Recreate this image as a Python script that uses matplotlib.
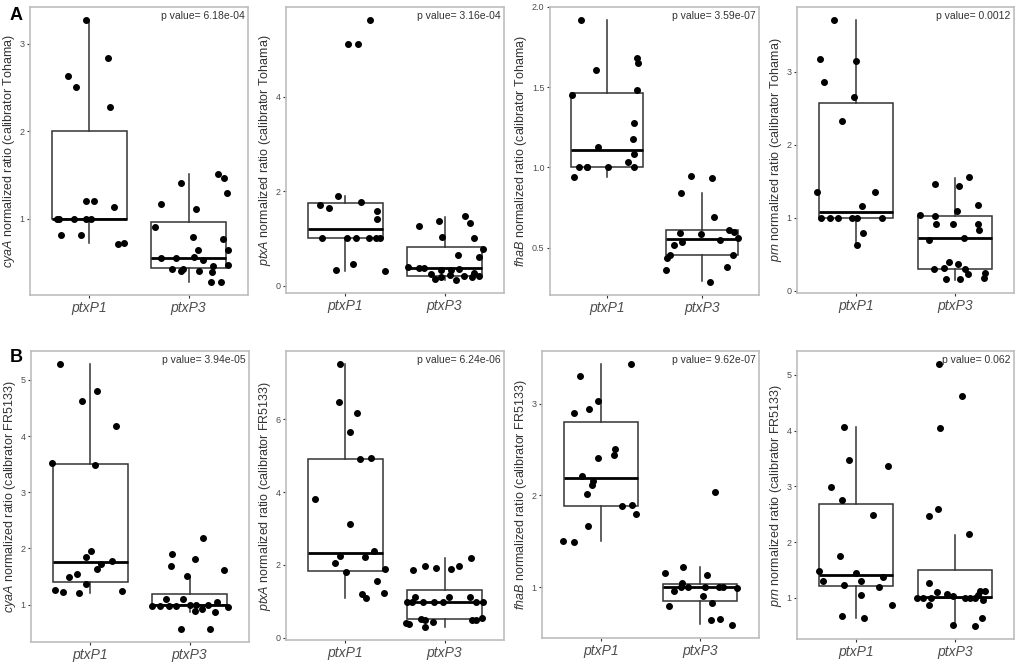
import matplotlib
matplotlib.use("Agg")
import matplotlib.pyplot as plt

plt.rcParams['font.family'] = ['Liberation Sans', 'DejaVu Sans']
plt.rcParams['mathtext.fontset'] = 'custom'
plt.rcParams['mathtext.it'] = 'Liberation Sans:italic'
plt.rcParams['mathtext.rm'] = 'Liberation Sans'

groups = ["ptxP1", "ptxP3"]
genes = ["cyaA", "ptxA", "fhaB", "prn", "cyaA", "ptxA", "fhaB", "prn"]
calibrators = ["Tohama"] * 4 + ["FR5133"] * 4
pvalues = ["6.18e-04", "3.16e-04", "3.59e-07", "0.0012",
           "3.94e-05", "6.24e-06", "9.62e-07", "0.062"]

# ---- row A (calibrator Tohama) ----
a1_p1_x = [0.97, 0.78, 0.86, 1.19, 1.21, 0.97, 1.05, 1.25, 0.67, 0.69, 0.84, 0.97, 1.02, 0.71, 0.91, 1.29, 1.35]
a1_p1_y = [3.27, 2.63, 2.51, 2.84, 2.28, 1.20, 1.20, 1.14, 1.0, 1.0, 1.0, 1.0, 1.0, 0.82, 0.81, 0.71, 0.73]
a1_p3_x = [1.66, 1.72, 1.92, 2.08, 2.04, 2.10, 2.30, 2.36, 2.39, 2.35, 2.40, 2.40, 1.72, 1.87, 2.05, 2.15, 1.83, 1.92, 1.94, 2.11, 2.25, 2.24, 2.23, 2.33]
a1_p3_y = [0.905, 1.17, 1.41, 1.11, 0.79, 0.65, 1.51, 1.47, 1.30, 0.77, 0.65, 0.47, 0.55, 0.55, 0.57, 0.53, 0.43, 0.40, 0.43, 0.40, 0.46, 0.39, 0.28, 0.28]
a1_box = [(0.72, 1.0, 1.0, 2.0, 3.27), (0.28, 0.436, 0.555, 0.96, 1.51)]

a2_p1_x = [1.25, 1.03, 1.13, 0.92, 0.74, 0.83, 1.16, 1.32, 1.32, 0.76, 1.02, 1.11, 1.24, 1.31, 1.35, 0.90, 1.08, 1.40]
a2_p1_y = [5.63, 5.13, 5.13, 1.91, 1.70, 1.64, 1.77, 1.59, 1.41, 1.01, 1.01, 1.01, 1.01, 1.01, 1.01, 0.34, 0.46, 0.31]
a2_p3_x = [1.74, 1.94, 1.97, 2.21, 2.26, 2.30, 2.39, 2.35, 2.14, 1.63, 1.74, 1.79, 1.96, 2.07, 2.15, 1.86, 1.96, 1.90, 2.06, 2.12, 2.20, 2.28, 2.30, 2.35]
a2_p3_y = [1.27, 1.36, 1.03, 1.47, 1.32, 1.00, 0.77, 0.60, 0.64, 0.40, 0.37, 0.37, 0.34, 0.34, 0.36, 0.24, 0.18, 0.14, 0.22, 0.12, 0.20, 0.18, 0.26, 0.21]
a2_box = [(0.31, 1.01, 1.21, 1.75, 1.89), (0.12, 0.21, 0.38, 0.82, 1.45)]

a3_p1_x = [0.73, 0.88, 0.63, 1.32, 1.33, 1.32, 1.28, 1.27, 1.28, 0.91, 1.22, 0.71, 0.79, 0.79, 1.01, 1.28, 0.655]
a3_p1_y = [1.917, 1.61, 1.45, 1.68, 1.65, 1.48, 1.28, 1.18, 1.085, 1.13, 1.035, 1.0, 1.0, 1.0, 1.0, 1.0, 0.94]
a3_p3_x = [1.88, 2.11, 1.78, 2.13, 1.77, 1.99, 2.28, 2.34, 2.38, 2.19, 1.79, 1.70, 1.66, 1.63, 2.33, 2.26, 1.62, 2.08]
a3_p3_y = [0.944, 0.935, 0.84, 0.694, 0.59, 0.585, 0.61, 0.60, 0.558, 0.55, 0.537, 0.516, 0.452, 0.437, 0.452, 0.383, 0.36, 0.287]
a3_box = [(0.94, 1.0, 1.108, 1.467, 1.917), (0.29, 0.452, 0.556, 0.608, 0.84)]

a4_p1_x = [0.78, 0.63, 0.67, 1.0, 0.98, 0.86, 0.60, 1.19, 1.06, 0.64, 0.73, 0.82, 0.96, 1.01, 1.26, 1.07, 1.01]
a4_p1_y = [3.71, 3.17, 2.86, 3.15, 2.65, 2.33, 1.36, 1.36, 1.16, 1.0, 1.0, 1.0, 1.0, 1.0, 1.0, 0.80, 0.63]
a4_p3_x = [1.65, 1.80, 1.80, 1.81, 1.98, 2.04, 2.02, 2.14, 2.24, 2.23, 2.25, 2.09, 1.74, 1.79, 1.89, 1.94, 2.03, 2.10, 2.13, 1.91, 2.05, 2.31, 2.30]
a4_p3_y = [1.035, 1.47, 1.02, 0.92, 0.92, 1.44, 1.10, 1.56, 1.18, 0.92, 0.84, 0.73, 0.70, 0.30, 0.32, 0.40, 0.37, 0.295, 0.23, 0.16, 0.16, 0.24, 0.18]
a4_box = [(0.63, 1.0, 1.08, 2.57, 3.71), (0.15, 0.30, 0.72, 1.02, 1.55)]

# ---- row B (calibrator FR5133) ----
b1_p1_x = [0.69, 0.91, 1.07, 1.26, 0.61, 1.05, 1.01, 0.96, 1.11, 1.22, 1.07, 0.86, 0.78, 0.95, 0.64, 0.72, 0.88, 1.32]
b1_p1_y = [5.28, 4.63, 4.80, 4.18, 3.53, 3.48, 1.96, 1.84, 1.72, 1.78, 1.63, 1.55, 1.49, 1.37, 1.26, 1.22, 1.20, 1.24]
b1_p3_x = [1.82, 1.81, 2.05, 2.14, 1.97, 2.35, 1.76, 1.93, 1.62, 1.70, 1.79, 1.86, 2.00, 2.07, 2.13, 2.06, 2.19, 2.28, 2.26, 2.39, 1.91, 2.21]
b1_p3_y = [1.90, 1.68, 1.81, 2.19, 1.51, 1.61, 1.10, 1.10, 0.98, 0.98, 0.98, 0.98, 1.0, 0.99, 0.93, 0.89, 1.0, 1.04, 0.86, 0.95, 0.57, 0.57]
b1_box = [(1.21, 1.40, 1.75, 3.51, 5.28), (0.86, 0.985, 1.0, 1.19, 1.49)]

b2_p1_x = [0.94, 0.93, 1.12, 1.05, 1.15, 1.26, 0.69, 1.05, 1.29, 0.94, 1.20, 0.89, 1.01, 1.40, 1.32, 1.17, 1.21, 1.39]
b2_p1_y = [7.51, 6.47, 6.17, 5.65, 4.90, 4.93, 3.80, 3.12, 2.37, 2.24, 2.21, 2.05, 1.80, 1.90, 1.56, 1.20, 1.10, 1.22]
b2_p3_x = [1.68, 1.80, 1.91, 2.07, 2.15, 2.27, 1.70, 2.04, 2.26, 1.62, 1.67, 1.78, 1.89, 1.98, 2.32, 2.39, 1.76, 1.80, 1.88, 1.61, 1.64, 1.80, 2.28, 2.32, 2.38]
b2_p3_y = [1.85, 1.98, 1.91, 1.88, 1.96, 2.19, 1.13, 1.13, 1.13, 0.99, 0.99, 0.99, 0.99, 0.99, 0.99, 0.99, 0.52, 0.48, 0.44, 0.40, 0.37, 0.30, 0.48, 0.50, 0.53]
b2_box = [(1.10, 1.84, 2.32, 4.92, 7.51), (0.30, 0.52, 0.99, 1.30, 2.19)]

b3_p1_x = [1.30, 0.79, 0.72, 0.88, 0.97, 1.14, 1.13, 0.97, 0.81, 0.92, 0.91, 0.86, 1.21, 1.31, 1.35, 0.87, 0.61, 0.72]
b3_p1_y = [3.43, 3.30, 2.90, 2.94, 3.03, 2.50, 2.44, 2.41, 2.21, 2.16, 2.11, 2.02, 1.88, 1.90, 1.80, 1.67, 1.50, 1.49]
b3_p3_x = [2.15, 1.65, 1.83, 2.07, 1.82, 1.74, 1.81, 1.88, 2.05, 2.19, 2.24, 2.38, 2.03, 1.69, 2.12, 2.11, 2.20, 2.33]
b3_p3_y = [2.04, 1.16, 1.22, 1.13, 1.05, 0.96, 1.0, 1.0, 1.0, 1.0, 1.0, 0.99, 0.91, 0.80, 0.83, 0.64, 0.66, 0.59]
b3_box = [(1.50, 1.88, 2.19, 2.80, 3.43), (0.60, 0.85, 1.0, 1.04, 1.22)]

b4_p1_x = [0.88, 0.93, 1.32, 0.74, 0.86, 1.17, 0.84, 0.62, 1.0, 1.27, 0.66, 1.05, 0.88, 1.23, 1.05, 1.36, 0.86, 1.08]
b4_p1_y = [4.06, 3.47, 3.36, 2.98, 2.76, 2.48, 1.76, 1.48, 1.45, 1.38, 1.30, 1.30, 1.23, 1.20, 1.06, 0.88, 0.68, 0.65]
b4_p3_x = [1.84, 2.07, 1.85, 1.74, 1.83, 2.14, 1.74, 1.82, 1.62, 1.68, 1.76, 1.92, 1.98, 2.10, 2.15, 2.20, 2.24, 2.26, 2.31, 2.29, 1.74, 2.28, 1.98, 2.20]
b4_p3_y = [5.19, 4.61, 4.04, 2.46, 2.59, 2.15, 1.26, 1.10, 1.0, 1.0, 1.0, 1.08, 1.04, 1.0, 1.0, 1.0, 1.06, 1.13, 1.13, 0.96, 0.88, 0.65, 0.52, 0.50]
b4_box = [(0.65, 1.21, 1.42, 2.69, 4.06), (0.52, 1.0, 1.02, 1.50, 2.13)]

panels = [
    (a1_p1_x, a1_p1_y, a1_p3_x, a1_p3_y, a1_box, [1, 2, 3]),
    (a2_p1_x, a2_p1_y, a2_p3_x, a2_p3_y, a2_box, [0, 2, 4]),
    (a3_p1_x, a3_p1_y, a3_p3_x, a3_p3_y, a3_box, [0.5, 1.0, 1.5, 2.0]),
    (a4_p1_x, a4_p1_y, a4_p3_x, a4_p3_y, a4_box, [0, 1, 2, 3]),
    (b1_p1_x, b1_p1_y, b1_p3_x, b1_p3_y, b1_box, [1, 2, 3, 4, 5]),
    (b2_p1_x, b2_p1_y, b2_p3_x, b2_p3_y, b2_box, [0, 2, 4, 6]),
    (b3_p1_x, b3_p1_y, b3_p3_x, b3_p3_y, b3_box, [1, 2, 3]),
    (b4_p1_x, b4_p1_y, b4_p3_x, b4_p3_y, b4_box, [1, 2, 3, 4, 5]),
]

# axes boxes in pixels: left, top, right, bottom
W, H = 1024, 664
boxes_px = [(30, 7, 248, 295), (286, 7, 504, 293), (550, 7, 759, 295), (797, 7, 1014, 293),
            (31, 351, 249, 642), (286, 351, 504, 640), (542, 351, 759, 638), (797, 351, 1014, 639)]

fig = plt.figure(figsize=(W / 100, H / 100), dpi=100)
grey_txt = "#4d4d4d"

for i, (x1, y1, x3, y3, box, yt) in enumerate(panels):
    l, t, r, b = boxes_px[i]
    ax = fig.add_axes([l / W, 1 - b / H, (r - l) / W, (b - t) / H])
    stats = []
    for k, (lo, q1, med, q3, hi) in enumerate(box):
        stats.append(dict(whislo=lo, q1=q1, med=med, q3=q3, whishi=hi, label=groups[k]))
    ax.bxp(stats, positions=[1, 2], widths=0.75, showfliers=False, showcaps=False,
           patch_artist=True,
           boxprops=dict(facecolor="white", edgecolor="#333333", linewidth=1.1),
           whiskerprops=dict(color="#333333", linewidth=1.1),
           medianprops=dict(color="black", linewidth=2.0), zorder=2)
    ax.plot(x1, y1, "o", color="black", markersize=4, zorder=3)
    ax.plot(x3, y3, "o", color="black", markersize=4, zorder=3)

    allv = y1 + y3 + [v for s in box for v in s]
    lo, hi = min(allv), max(allv)
    pad = (hi - lo) * 0.05
    ax.set_ylim(lo - pad, hi + pad)
    ax.set_xlim(0.4, 2.6)
    ax.set_yticks(yt)
    ax.set_yticklabels([("%g" % v) if i != 2 else ("%.1f" % v) for v in yt])
    ax.set_xticks([1, 2])
    ax.set_xticklabels(groups, fontstyle="italic", fontsize=10, color=grey_txt)
    ax.tick_params(axis="y", labelsize=6.5, labelcolor=grey_txt, color="#333333", length=2.5, width=0.8, pad=1.5)
    ax.tick_params(axis="x", color="#333333", length=2.5, width=0.8, pad=2)
    for sp in ax.spines.values():
        sp.set_color("#bdbdbd")
        sp.set_linewidth(1.2)
    ax.set_ylabel(r"$\it{%s}$ normalized ratio (calibrator %s)" % (genes[i], calibrators[i]),
                  fontsize=9, color="#333333", labelpad=2)
    ax.text(0.985, 0.985, "p value= " + pvalues[i], transform=ax.transAxes,
            ha="right", va="top", fontsize=7.5, color="#333333")

fig.text(10 / W, 1 - 16 / H, "A", fontsize=13, fontweight="bold", ha="left", va="center")
fig.text(10 / W, 1 - 358 / H, "B", fontsize=13, fontweight="bold", ha="left", va="center")

fig.savefig("out.png", dpi=100, facecolor="white")
